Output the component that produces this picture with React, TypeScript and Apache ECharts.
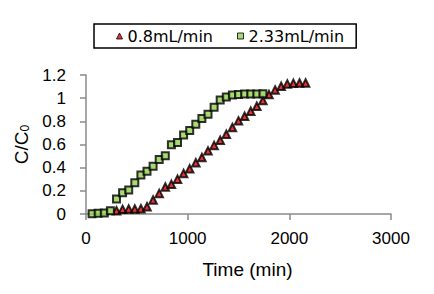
import React, { useEffect, useRef } from "react";
import * as echarts from "echarts";

const redTimes = [300, 360, 420, 480, 540, 600, 660, 720, 780, 840, 900, 960, 1020, 1080, 1140, 1200, 1260, 1320, 1380, 1440, 1500, 1560, 1620, 1680, 1740, 1800, 1860, 1920, 1980, 2040, 2100, 2160];
const redValues = [0.029, 0.04, 0.043, 0.043, 0.046, 0.063, 0.121, 0.178, 0.233, 0.256, 0.301, 0.35, 0.39, 0.442, 0.488, 0.545, 0.592, 0.637, 0.689, 0.747, 0.804, 0.844, 0.887, 0.93, 0.979, 1.031, 1.071, 1.102, 1.123, 1.128, 1.131, 1.131];

const greenTimes = [60, 120, 180, 240, 300, 360, 420, 480, 540, 600, 660, 720, 780, 840, 900, 960, 1020, 1080, 1140, 1200, 1260, 1320, 1380, 1440, 1500, 1560, 1620, 1680, 1740];
const greenValues = [0.003, 0.006, 0.009, 0.029, 0.129, 0.184, 0.207, 0.27, 0.336, 0.37, 0.413, 0.471, 0.502, 0.597, 0.617, 0.683, 0.721, 0.775, 0.824, 0.861, 0.922, 0.985, 1.011, 1.028, 1.031, 1.036, 1.036, 1.036, 1.039];

const seriesNames = ["0.8mL/min", "2.33mL/min"];
const xName = "Time (min)";

const pairs = (xs: number[], ys: number[]) => xs.map((x, i) => [x, ys[i]]);

export default function App() {
  const ref = useRef<HTMLDivElement>(null);
  useEffect(() => {
    if (!ref.current) return;
    const chart = echarts.init(ref.current, undefined, { renderer: "svg" });
    const axisColor = "#8a8a8a";
    const font = "'Liberation Sans', Arial, sans-serif";
    chart.setOption({
      animation: false,
      backgroundColor: "#ffffff",
      grid: { left: 86, right: 43, top: 75, bottom: 80 },
      legend: {
        left: 94,
        top: 24,
        orient: "horizontal",
        padding: [4, 12, 4, 22],
        borderColor: "#000",
        borderWidth: 1.5,
        backgroundColor: "#fff",
        itemWidth: 6,
        itemHeight: 6,
        itemGap: 24,
        itemStyle: { borderWidth: 1 },
        textStyle: { fontFamily: "'DejaVu Sans', sans-serif", fontSize: 16, color: "#000" },
        data: seriesNames,
      },
      xAxis: {
        type: "value",
        min: 0,
        max: 3000,
        interval: 1000,
        name: xName,
        nameLocation: "middle",
        nameGap: 46,
        nameTextStyle: { fontFamily: font, fontSize: 19, color: "#000", padding: [0, 0, 0, 18] },
        axisLine: { show: true, lineStyle: { color: axisColor, width: 1.5 } },
        axisTick: { show: true, length: 6, lineStyle: { color: axisColor, width: 1.5 } },
        axisLabel: { fontFamily: font, fontSize: 17, color: "#000", margin: 16, formatter: (v: number) => String(v) },
        splitLine: { show: false },
      },
      yAxis: {
        type: "value",
        min: 0,
        max: 1.2,
        interval: 0.2,
        name: "C/C{sub|0}",
        nameLocation: "middle",
        nameRotate: 90,
        nameGap: 54,
        nameTextStyle: {
          fontFamily: font,
          fontSize: 19,
          color: "#000",
          rich: { sub: { fontFamily: font, fontSize: 12, color: "#000", verticalAlign: "bottom", padding: [8, 0, 0, 0] } },
        },
        axisLine: { show: true, lineStyle: { color: axisColor, width: 1.5 } },
        axisTick: { show: true, length: 6, lineStyle: { color: axisColor, width: 1.5 } },
        axisLabel: { fontFamily: font, fontSize: 17, color: "#000", margin: 20 },
        splitLine: { show: false },
      },
      series: [
        {
          name: seriesNames[0],
          type: "scatter",
          symbol: "triangle",
          symbolSize: 7.5,
          itemStyle: { color: "#e00000", borderColor: "#000", borderWidth: 2 },
          data: pairs(redTimes, redValues),
        },
        {
          name: seriesNames[1],
          type: "scatter",
          symbol: "rect",
          symbolSize: 7,
          itemStyle: { color: "#92d050", borderColor: "#000", borderWidth: 2 },
          data: pairs(greenTimes, greenValues),
        },
      ],
    });
    return () => chart.dispose();
  }, []);
  return <div ref={ref} style={{ position: "fixed", left: 0, top: 0, width: 434, height: 294 }} />;
}
